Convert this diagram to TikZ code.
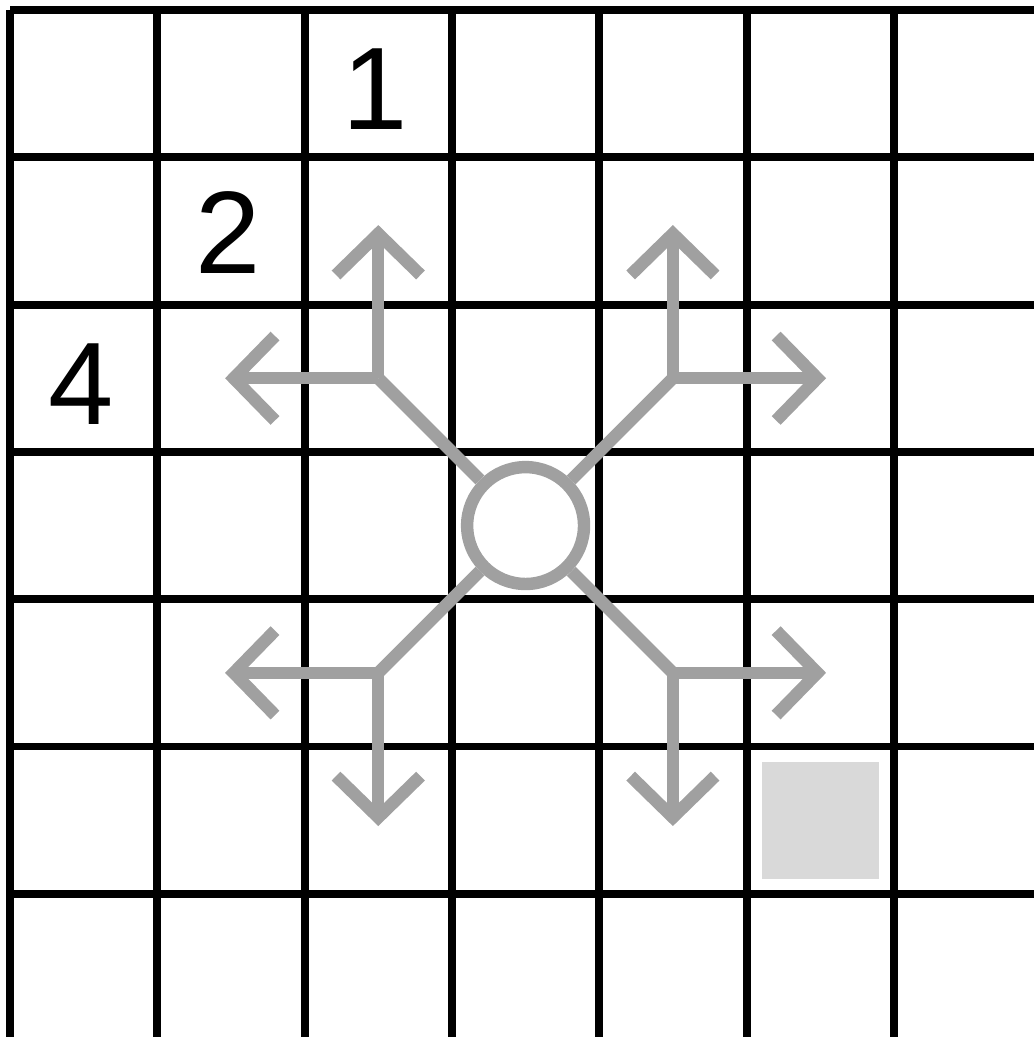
\documentclass[tikz,border=0pt]{standalone}
\usepackage{fontspec}
\setmainfont{Liberation Sans}
\usepackage{xcolor}
\usepackage{tikz}
\usetikzlibrary{arrows.meta}
\definecolor{movegray}{RGB}{160,160,160}
\definecolor{shadegray}{RGB}{217,217,217}

\begin{document}
\begin{tikzpicture}[
  x=1.5cm, y=1.5cm,
  cellline/.style={line width=2.3pt, black},
  digit/.style={font=\fontsize{34}{40}\selectfont, inner sep=0pt},
  ring/.style={circle, draw=movegray, line width=3.6pt, minimum size=1.19cm, inner sep=0pt},
  link/.style={movegray, line width=3.6pt},
  arr/.style={link, -{Straight Barb[length=4.2mm, width=8.6mm]}},
  shade/.style={fill=shadegray, minimum size=1.19cm, inner sep=0pt}]
  \useasboundingbox (-0.0679,0.028) rectangle (6.945,7.0679);
  % board
  \draw[cellline, step=1.5cm] (0,-1) grid (8,7);
  \node[shade] (goal) at (5.5,1.5) {};
  % numbers
  \node[digit] (one) at (2.48,6.46) {1};
  \node[digit] (two) at (1.48,5.49) {2};
  \node[digit] (four) at (0.48,4.46) {4};
  % piece and moves
  \node[ring] (piece) at (3.5,3.5) {};
  \coordinate (nw) at (2.5,4.5);
  \coordinate (ne) at (4.5,4.5);
  \coordinate (sw) at (2.5,2.5);
  \coordinate (se) at (4.5,2.5);
  \coordinate (nwup) at (2.5,5.54);
  \coordinate (nwleft) at (1.46,4.5);
  \coordinate (neup) at (4.5,5.54);
  \coordinate (neright) at (5.54,4.5);
  \coordinate (swleft) at (1.46,2.5);
  \coordinate (swdown) at (2.5,1.46);
  \coordinate (seright) at (5.54,2.5);
  \coordinate (sedown) at (4.5,1.46);
  \draw[link] (piece) -- (nw);
  \draw[link] (piece) -- (ne);
  \draw[link] (piece) -- (sw);
  \draw[link] (piece) -- (se);
  \draw[arr] (nw) -- (nwup);
  \draw[arr] (nw) -- (nwleft);
  \draw[arr] (ne) -- (neup);
  \draw[arr] (ne) -- (neright);
  \draw[arr] (sw) -- (swleft);
  \draw[arr] (sw) -- (swdown);
  \draw[arr] (se) -- (seright);
  \draw[arr] (se) -- (sedown);
\end{tikzpicture}
\end{document}
